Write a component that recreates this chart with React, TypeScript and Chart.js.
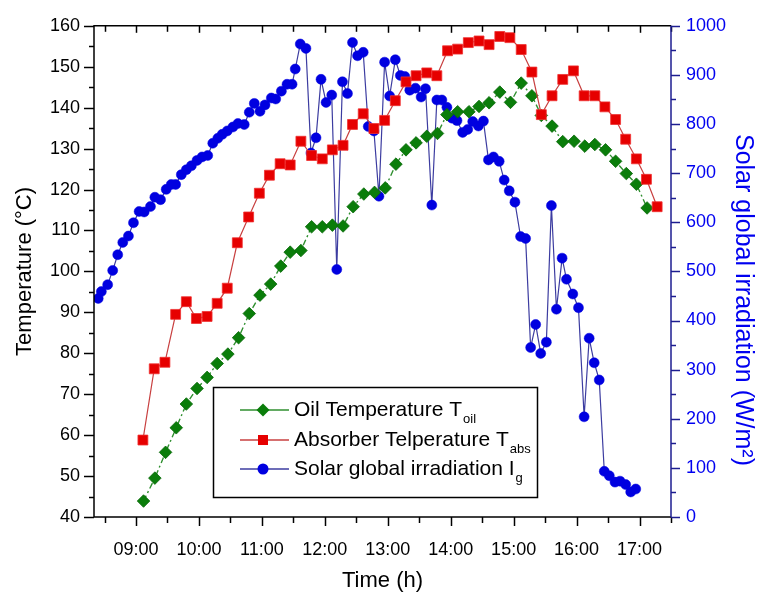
import React, { useEffect, useRef } from 'react';
import { Chart, registerables } from 'chart.js';

Chart.register(...registerables);

// ---- data (times in decimal hours) ----
const oilTimes = [9.12, 9.30, 9.47, 9.64, 9.80, 9.97, 10.13, 10.29, 10.46, 10.63, 10.80, 10.97, 11.14, 11.30, 11.45, 11.62, 11.79, 11.96, 12.12, 12.29, 12.45, 12.62, 12.79, 12.96, 13.13, 13.29, 13.45, 13.62, 13.79, 13.94, 14.11, 14.29, 14.45, 14.61, 14.78, 14.95, 15.12, 15.29, 15.44, 15.61, 15.78, 15.96, 16.13, 16.29, 16.46, 16.62, 16.79, 16.95, 17.12];
const oilTemp = [43.9, 49.5, 55.8, 61.8, 67.6, 71.4, 74.1, 77.5, 79.8, 83.8, 89.7, 94.2, 96.9, 101.3, 104.7, 105.1, 110.9, 110.9, 111.3, 111.1, 115.8, 118.9, 119.3, 120.4, 126.2, 129.7, 131.4, 133.0, 133.7, 138.3, 139.0, 139.0, 140.3, 141.2, 143.8, 141.3, 146.0, 142.9, 138.1, 135.5, 131.7, 131.8, 130.6, 131.0, 129.7, 126.9, 123.9, 121.3, 115.5];

const absTimes = [9.11, 9.29, 9.46, 9.63, 9.80, 9.96, 10.13, 10.29, 10.45, 10.61, 10.79, 10.96, 11.12, 11.29, 11.45, 11.62, 11.79, 11.96, 12.12, 12.29, 12.44, 12.61, 12.78, 12.95, 13.12, 13.29, 13.45, 13.62, 13.78, 13.95, 14.11, 14.28, 14.45, 14.61, 14.78, 14.94, 15.12, 15.29, 15.44, 15.61, 15.78, 15.95, 16.12, 16.29, 16.45, 16.62, 16.78, 16.95, 17.11, 17.28];
const absTemp = [58.8, 76.2, 77.8, 89.5, 92.6, 88.5, 89.0, 92.2, 95.9, 107.0, 113.3, 119.1, 123.5, 126.3, 126.0, 131.8, 128.3, 127.5, 129.7, 130.8, 135.9, 138.5, 134.9, 136.9, 141.7, 146.3, 147.8, 148.5, 147.8, 153.9, 154.3, 155.9, 156.3, 155.4, 157.4, 157.1, 154.2, 148.7, 138.3, 142.9, 146.9, 149.0, 142.9, 142.9, 140.2, 137.1, 132.3, 127.5, 122.5, 115.8];

const solarTimes = [8.40, 8.45, 8.55, 8.63, 8.71, 8.79, 8.88, 8.96, 9.05, 9.13, 9.23, 9.30, 9.39, 9.48, 9.56, 9.63, 9.72, 9.80, 9.88, 9.97, 10.05, 10.14, 10.22, 10.30, 10.37, 10.45, 10.54, 10.62, 10.72, 10.80, 10.88, 10.97, 11.05, 11.15, 11.22, 11.31, 11.40, 11.48, 11.53, 11.61, 11.70, 11.78, 11.86, 11.94, 12.02, 12.11, 12.19, 12.28, 12.36, 12.44, 12.52, 12.61, 12.69, 12.78, 12.86, 12.95, 13.03, 13.12, 13.20, 13.27, 13.35, 13.44, 13.53, 13.60, 13.70, 13.78, 13.86, 13.94, 14.02, 14.10, 14.19, 14.27, 14.35, 14.44, 14.52, 14.60, 14.68, 14.77, 14.85, 14.93, 15.02, 15.11, 15.19, 15.27, 15.35, 15.43, 15.52, 15.60, 15.68, 15.77, 15.84, 15.94, 16.03, 16.12, 16.20, 16.28, 16.36, 16.44, 16.52, 16.61, 16.69, 16.78, 16.86, 16.94];
const solarIrr = [445, 459, 473, 502, 534, 559, 572, 599, 622, 621, 632, 651, 646, 667, 677, 677, 697, 707, 715, 726, 733, 736, 761, 771, 779, 786, 794, 801, 799, 824, 842, 826, 839, 853, 851, 867, 881, 881, 912, 963, 954, 741, 772, 891, 844, 859, 504, 886, 862, 966, 939, 946, 795, 786, 653, 926, 857, 931, 899, 897, 869, 873, 855, 872, 635, 849, 849, 834, 812, 807, 783, 789, 805, 796, 806, 727, 733, 724, 686, 664, 641, 571, 567, 345, 392, 333, 356, 634, 423, 527, 484, 454, 426, 204, 364, 314, 279, 93, 84, 71, 73, 66, 51, 57];

const seriesLabels = ['Oil Temperature T', 'Absorber Telperature T', 'Solar global irradiation I'];
const seriesSubs = ['oil', 'abs', 'g'];
const rightTitle = 'Solar global irradiation (W/m²)';

const FONT = "'Liberation Sans', Arial, sans-serif";
const GREEN = '#0a7d0a';
const GREEN_LINE = '#2f8f2f';
const RED = '#e60000';
const RED_LINE = '#c84040';
const BLUE = '#0000e0';
const BLUE_LINE = '#3c3ca0';
const AXIS_BLUE = '#1d1d90';
const LABEL_BLUE = '#0000f0';

const toPts = (xs: number[], ys: number[]) => xs.map((x, i) => ({ x, y: ys[i] }));

const framePlugin = {
  id: 'frameAndLegend',
  afterDraw(chart: any) {
    const { ctx, chartArea: a, scales } = chart;
    const xs = scales.x;
    const ys = scales.y;
    const y2 = scales.y2;
    ctx.save();
    const seg = (x1: number, y1: number, x2: number, y2_: number) => {
      ctx.beginPath();
      ctx.moveTo(x1, y1);
      ctx.lineTo(x2, y2_);
      ctx.stroke();
    };
    ctx.strokeStyle = '#000';
    ctx.lineWidth = 1.5;
    ctx.beginPath();
    ctx.moveTo(a.right, a.top);
    ctx.lineTo(a.left, a.top);
    ctx.lineTo(a.left, a.bottom);
    ctx.lineTo(a.right, a.bottom);
    ctx.stroke();
    // left ticks
    ys.ticks.forEach((t: any) => {
      const py = Math.round(ys.getPixelForValue(t.value)) + 0.5;
      const major = t.value % 10 === 0;
      seg(a.left - (major ? 10 : 5), py, a.left, py);
    });
    // bottom & top ticks
    xs.ticks.forEach((t: any) => {
      const px = Math.round(xs.getPixelForValue(t.value)) + 0.5;
      const major = Number.isInteger(t.value);
      seg(px, a.bottom, px, a.bottom + (major ? 9 : 6));
      seg(px, a.top, px, a.top + (major ? 7 : 6));
    });
    // right axis
    ctx.strokeStyle = AXIS_BLUE;
    seg(a.right, a.top, a.right, a.bottom);
    y2.ticks.forEach((t: any) => {
      const py = Math.round(y2.getPixelForValue(t.value)) + 0.5;
      const major = t.value % 100 === 0;
      seg(a.right, py, a.right + (major ? 9 : 5), py);
    });

    // right axis title (rotated clockwise)
    ctx.save();
    ctx.translate(743, 300);
    ctx.rotate(Math.PI / 2);
    ctx.fillStyle = LABEL_BLUE;
    ctx.font = `25px ${FONT}`;
    ctx.textAlign = 'center';
    ctx.textBaseline = 'middle';
    ctx.fillText(rightTitle, 0, 0);
    ctx.restore();

    // legend
    const bx = 213.5, by = 387.5, bw = 324, bh = 110;
    ctx.fillStyle = '#fff';
    ctx.fillRect(bx, by, bw, bh);
    ctx.strokeStyle = '#000';
    ctx.lineWidth = 1.5;
    ctx.strokeRect(bx, by, bw, bh);
    const rowsY = [410, 440, 469];
    const lineCols = [GREEN_LINE, RED_LINE, BLUE_LINE];
    const markCols = [GREEN, RED, BLUE];
    rowsY.forEach((ry, i) => {
      ctx.strokeStyle = lineCols[i];
      ctx.lineWidth = 1.5;
      seg(240, ry, 289, ry);
      ctx.fillStyle = markCols[i];
      const cx = 263;
      ctx.beginPath();
      if (i === 0) {
        ctx.moveTo(cx, ry - 6.5);
        ctx.lineTo(cx + 6.5, ry);
        ctx.lineTo(cx, ry + 6.5);
        ctx.lineTo(cx - 6.5, ry);
        ctx.closePath();
      } else if (i === 1) {
        ctx.rect(cx - 5, ry - 5, 10, 10);
      } else {
        ctx.arc(cx, ry, 5.5, 0, Math.PI * 2);
      }
      ctx.fill();
      ctx.fillStyle = '#000';
      ctx.textBaseline = 'middle';
      ctx.textAlign = 'left';
      ctx.font = `21px ${FONT}`;
      ctx.fillText(seriesLabels[i], 294, ry);
      const w = ctx.measureText(seriesLabels[i]).width;
      ctx.font = `13px ${FONT}`;
      ctx.fillText(seriesSubs[i], 294 + w + 1, ry + 9);
    });
    ctx.restore();
  },
};

export default function App() {
  const ref = useRef<HTMLCanvasElement>(null);
  useEffect(() => {
    if (!ref.current) return;
    const chart = new Chart(ref.current, {
      type: 'line',
      data: {
        datasets: [
          {
            label: 'Absorber',
            data: toPts(absTimes, absTemp),
            yAxisID: 'y',
            borderColor: RED_LINE,
            borderWidth: 1.2,
            backgroundColor: RED,
            pointStyle: 'rect',
            pointRadius: 7,
            pointBorderColor: '#f03030',
            pointBorderWidth: 0.8,
            pointBackgroundColor: RED,
          },
          {
            label: 'Oil',
            data: toPts(oilTimes, oilTemp),
            yAxisID: 'y',
            borderColor: GREEN_LINE,
            borderWidth: 1.4,
            borderDash: [6, 3, 2, 3],
            backgroundColor: GREEN,
            pointStyle: 'rectRot',
            pointRadius: 6.3,
            pointBorderColor: '#0a6a0a',
            pointBorderWidth: 0.8,
            pointBackgroundColor: GREEN,
          },
          {
            label: 'Solar',
            data: toPts(solarTimes, solarIrr),
            yAxisID: 'y2',
            borderColor: BLUE_LINE,
            borderWidth: 1.2,
            backgroundColor: BLUE,
            pointStyle: 'circle',
            pointRadius: 5,
            pointBorderColor: BLUE,
            pointBorderWidth: 0.5,
            pointBackgroundColor: BLUE,
          },
        ],
      },
      options: {
        responsive: false,
        animation: false,
        devicePixelRatio: 1,
        events: [],
        layout: { padding: { top: 17, left: 0, right: 0, bottom: 0 } },
        plugins: { legend: { display: false }, tooltip: { enabled: false } },
        scales: {
          x: {
            type: 'linear',
            position: 'bottom',
            min: 8.333,
            max: 17.5,
            afterFit: (s: any) => { s.height = 82; },
            grid: { display: true, drawOnChartArea: false, drawTicks: false },
            border: { display: false },
            ticks: {
              stepSize: 0.5,
              includeBounds: false,
              autoSkip: false,
              maxRotation: 0,
              minRotation: 0,
              padding: 22,
              color: '#000',
              font: { family: FONT, size: 18 },
              callback: (v: any) => (Number.isInteger(v) ? `${String(v).padStart(2, '0')}:00` : ''),
            },
            title: {
              display: true,
              text: 'Time (h)',
              color: '#000',
              font: { family: FONT, size: 22 },
              padding: { top: 0, bottom: 5 },
            },
          },
          y: {
            type: 'linear',
            position: 'left',
            min: 40,
            max: 160,
            afterFit: (s: any) => { s.width = 94; },
            grid: { display: true, drawOnChartArea: false, drawTicks: false },
            border: { display: false },
            ticks: {
              stepSize: 5,
              includeBounds: false,
              autoSkip: false,
              padding: 14,
              color: '#000',
              font: { family: FONT, size: 18 },
              callback: (v: any) => (v % 10 === 0 ? String(v) : ''),
            },
            title: {
              display: true,
              text: 'Temperature (°C)',
              color: '#000',
              font: { family: FONT, size: 22 },
              padding: { top: 12, bottom: 0 },
            },
          },
          y2: {
            type: 'linear',
            position: 'right',
            min: 0,
            max: 1000,
            afterFit: (s: any) => { s.width = 88; },
            grid: { display: true, drawOnChartArea: false, drawTicks: false },
            border: { display: false },
            ticks: {
              stepSize: 50,
              includeBounds: false,
              autoSkip: false,
              padding: 15,
              color: LABEL_BLUE,
              font: { family: FONT, size: 18 },
              callback: (v: any) => (v % 100 === 0 ? String(v) : ''),
            },
            title: { display: false },
          },
        },
      },
      plugins: [framePlugin],
    } as any);
    return () => chart.destroy();
  }, []);
  return (
    <div style={{ position: 'absolute', left: 0, top: 0, width: 759, height: 599, background: '#fff' }}>
      <canvas ref={ref} width={759} height={599} style={{ width: 759, height: 599, display: 'block' }} />
    </div>
  );
}
